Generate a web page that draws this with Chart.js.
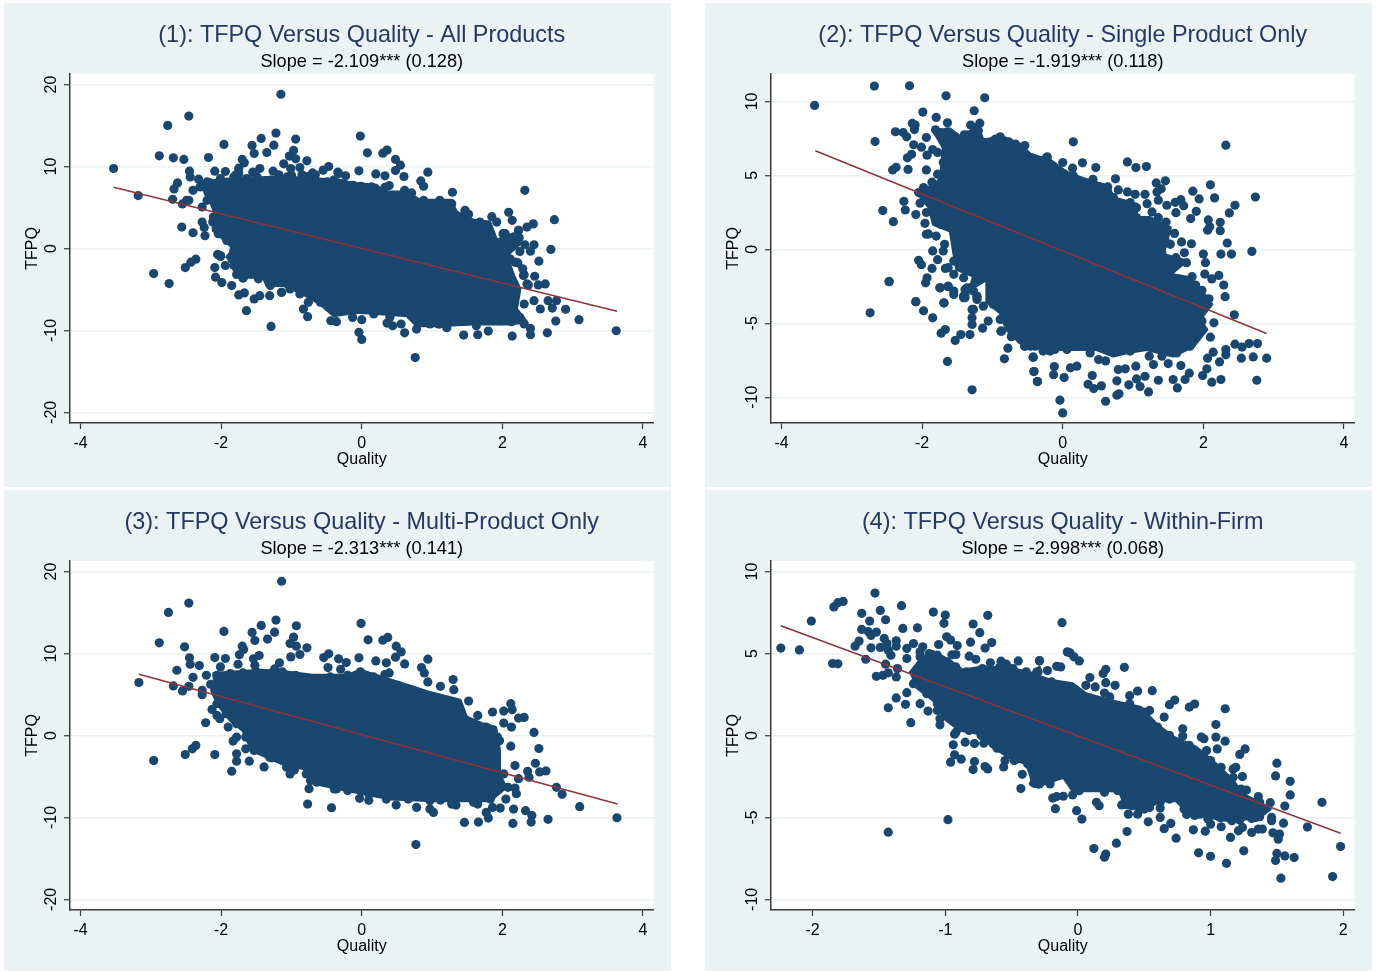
<!DOCTYPE html>
<html>
<head>
<meta charset="utf-8">
<title>TFPQ Versus Quality</title>
<script src="https://cdn.jsdelivr.net/npm/chart.js@4/dist/chart.umd.min.js"></script>
<style>
  html, body { margin: 0; padding: 0; background: #fff; }
  .panel { position: absolute; width: 667px; background: #eaf2f3; overflow: hidden; }
  .panel canvas { display: block; }
</style>
</head>
<body>
<div class="panel" style="left:4px;top:3px;height:484px"><canvas id="c1" width="667" height="484"></canvas></div>
<div class="panel" style="left:705px;top:3px;height:484px"><canvas id="c2" width="667" height="484"></canvas></div>
<div class="panel" style="left:4px;top:490px;height:481px"><canvas id="c3" width="667" height="484"></canvas></div>
<div class="panel" style="left:705px;top:490px;height:481px"><canvas id="c4" width="667" height="484"></canvas></div>
<script>
const titles = [
  "(1): TFPQ Versus Quality - All Products",
  "(2): TFPQ Versus Quality - Single Product Only",
  "(3): TFPQ Versus Quality - Multi-Product Only",
  "(4): TFPQ Versus Quality - Within-Firm"
];
const subtitles = [
  "Slope = -2.109*** (0.128)",
  "Slope = -1.919*** (0.118)",
  "Slope = -2.313*** (0.141)",
  "Slope = -2.998*** (0.068)"
];

// fitted lines
const fit1 = [[-3.53, 7.47], [3.63, -7.67]];
const fit2 = [[-3.52, 6.66], [2.90, -5.69]];
const fit3 = [[-3.17, 7.47], [3.64, -8.37]];
const fit4 = [[-2.24, 6.69], [1.98, -5.96]];

// the middle of each cloud is solid ink, so only its outline is read and filled
const cloud1 = [[-2.18,5.88],[-2.3,8.12],[-1.82,8.53],[-1.11,8.73],[-0.31,8.33],[-0.12,7.92],[0.21,7.71],[0.31,6.9],[0.64,6.9],[0.83,5.88],[1.26,5.88],[1.35,4.45],[1.59,3.43],[1.82,3.22],[1.92,1],[2.16,1.8],[2.25,0.57],[2.06,-0.86],[2.16,-3.3],[2.25,-4.94],[2.2,-7.39],[2.35,-9.02],[2.06,-9.22],[1.59,-9.22],[1.07,-9.43],[0.78,-9.43],[0.64,-8.2],[0.31,-8],[-0.07,-7.8],[-0.4,-8.2],[-0.59,-6.78],[-0.88,-5.35],[-1.11,-4.53],[-1.35,-4.53],[-1.4,-3.51],[-1.73,-3.51],[-1.82,-1.67],[-1.92,-1.06],[-1.82,-0.04],[-1.92,0.78],[-2.11,2.2],[-2.11,4.24]];
const cloud2 = [[-2.08,3.72],[-1.74,4.63],[-1.7,6.88],[-1.84,8.01],[-1.6,8.13],[-1.41,7.45],[-1.22,8.47],[-1.13,7.34],[-0.89,7.67],[-0.61,7.11],[-0.46,6.43],[-0.32,6.21],[-0.23,6.21],[0.06,5.19],[0.39,4.63],[0.65,4.29],[0.72,3.5],[1.05,3.05],[1.05,2.15],[1.24,2.15],[1.53,1.47],[1.43,-0.34],[1.76,-0.79],[1.53,-1.69],[1.81,-1.92],[2,-3.05],[2.12,-3.72],[1.95,-4.74],[2.05,-5.42],[1.86,-6.55],[1.57,-7.22],[1.19,-6.77],[0.91,-7],[0.72,-7.22],[0.48,-6.77],[0.01,-6.77],[-0.27,-6.77],[-0.37,-6.55],[-0.61,-6.32],[-0.8,-5.42],[-0.89,-4.29],[-1.08,-3.57],[-1.08,-2.03],[-1.32,-2.71],[-1.27,-1.81],[-1.51,-1.35],[-1.55,-0.23],[-1.6,1.24],[-1.84,1.69],[-1.89,2.6]];
const cloud3 = [[-2.12,7.55],[-1.81,7.76],[-1.44,7.96],[-1.07,7.76],[-0.7,7.35],[-0.2,7.35],[-0.02,7.96],[0.35,6.94],[0.66,6.12],[0.94,5.31],[1.22,4.69],[1.4,4.29],[1.49,2.24],[1.71,1.43],[1.9,1.02],[1.96,-1.84],[1.96,-4.69],[2.05,-6.33],[1.83,-7.96],[1.03,-7.96],[0.41,-7.76],[-0.2,-6.73],[-0.64,-5.92],[-0.82,-4.08],[-1.13,-3.47],[-1.56,-1.84],[-1.69,0.61],[-1.87,1.84],[-2.02,3.47],[-2.12,5.1]];
const cloud4 = [[-1.27,3.78],[-1.17,4.8],[-1.09,5.1],[-0.97,4.59],[-0.87,3.98],[-0.72,4.18],[-0.49,4.08],[-0.34,3.78],[-0.29,4.18],[-0.31,3.67],[-0.21,3.37],[-0.04,3.16],[0.06,2.55],[0.24,2.14],[0.47,1.73],[0.59,0.71],[0.72,-0.1],[0.89,-0.71],[1.04,-1.73],[1.17,-2.76],[1.24,-3.57],[1.39,-4.18],[1.45,-4.49],[1.37,-5],[1.14,-5.2],[0.84,-4.8],[0.74,-3.98],[0.64,-3.98],[0.49,-4.49],[0.36,-4.39],[0.31,-3.37],[0.14,-3.37],[-0.04,-3.37],[-0.11,-2.55],[-0.26,-2.96],[-0.36,-2.96],[-0.34,-2.76],[-0.39,-1.73],[-0.52,-1.33],[-0.64,-0.71],[-0.74,0.1],[-0.89,0.31],[-0.99,0.92],[-1.09,2.14],[-1.22,2.96]];

// dots that scallop the rim of each cloud
const rim1 = [[-1.82,8.73],[-1.75,9.14],[-1.61,8.33],[-1.49,8.73],[-1.4,7.92],[-1.18,8.98],[-1.06,8.73],[-0.85,8.98],[-0.78,8.73],[-0.66,8.98],[-0.57,7.76],[-0.4,8.33],[-0.33,9.14],[-0.12,7.71],[-0.01,7.59],[0.14,7.51],[0.26,6.78],[0.45,6.49],[0.66,5.67],[0.88,5.88],[1.11,5.88],[1.28,5.47],[1.47,4.45],[1.68,3.22],[1.92,3.22],[2.04,1.8],[2.23,2.2],[0.17,-8],[0.4,-8.41],[0.71,-7.59],[0.88,-8.41],[1.11,-9.22],[1.4,-8.41],[1.59,-8.82],[1.82,-8.41],[2.11,-8.82],[2.25,-8.41],[-0.17,-7.39],[2.16,-6.37],[2.35,-4.33],[2.3,-3.3],[2.18,-1.67],[-0.59,-6.57],[-0.76,-6.57],[-1.02,-4.94],[-1.14,-5.35],[-1.3,-4.53],[-1.47,-3.71],[-1.68,-3.51],[-1.82,-2.08],[-2.01,-0.86],[-2.06,3.22],[-2.11,3.84],[-2.04,1.8],[-1.92,0.98],[-1.8,0.98],[-2.3,7.51],[-2.2,8.12],[-2.49,5.88]];
const rim2 = [[-1.22,-3.16],[-1.29,-4.06],[-1.13,-3.84],[-0.99,-3.72],[-1.41,-3.16],[-1.39,-2.71],[-1.32,-2.6],[-1.41,-1.92],[-1.22,-3.39],[-1.63,6.88],[-1.55,6.88],[-1.67,6.32],[-1.63,5.98],[-1.7,5.87],[-1.74,4.51],[-1.7,3.95],[-1.84,3.95],[-1.98,3.84],[-2.05,3.84],[-1.89,3.27],[-1.79,3.27],[-1.84,2.6],[-1.74,1.69],[-1.6,1.47],[-1.5,2.37],[-1.94,2.49],[-1.51,-0.11],[-1.55,-0.79],[-1.63,-1.24],[-1.55,-1.69],[-1.36,-2.6],[-1.22,-3.27],[-1.41,-3.27],[-1.27,-2.82],[0.55,4.18],[0.72,3.5],[0.96,3.16],[1.05,2.82],[1.05,2.15],[1.19,1.69],[1.43,1.13],[1.48,0.45],[1.41,-0.23],[1.43,-0.79],[1.5,-1.47],[1.67,-2.03],[1.76,-2.82],[2,-3.27],[1.98,-4.85],[1.95,-5.42],[1.81,-6.0],[1.81,-6.55],[1.62,-7],[1.41,-7.22],[0.96,-6.88],[0.63,-6.55],[0.39,-7],[0.06,-6.77],[-0.18,-6.88],[-0.46,-6.55],[-0.39,-6.55],[-0.54,-6.55],[-0.61,-5.87],[-0.73,-5.87],[-0.87,-5.53],[-0.89,-4.74],[-0.87,-4.06],[-0.61,-4.74],[-0.46,6.21],[-0.37,5.98],[-0.23,6.21],[0.03,5.08],[0.15,4.97],[0.32,4.4],[0.46,4.18]];
const rim3 = [[-2.06,7.35],[-1.87,7.55],[-1.69,7.63],[-1.5,7.76],[-1.31,7.55],[-1.13,7.76],[-0.94,7.35],[-0.7,6.94],[-0.45,7.14],[-0.2,7.35],[-0.02,7.76],[0.17,7.14],[0.32,6.53],[0.51,6.12],[0.72,5.51],[0.94,4.49],[1.16,3.88],[1.37,3.47],[1.49,1.84],[1.59,1.43],[1.77,1.02],[1.93,-0.2],[2.02,-4.69],[2.08,-6.33],[1.83,-7.76],[1.59,-8.16],[1.28,-8.37],[0.97,-7.96],[0.66,-7.76],[0.35,-7.76],[0.1,-7.14],[-0.2,-6.73],[-0.39,-6.53],[-0.64,-5.71],[-0.79,-4.69],[-1.07,-3.88],[-1.31,-2.65],[-1.53,-1.84],[-1.65,-0.2],[-1.78,1.43],[-1.93,2.65],[-2.06,3.88],[-2.09,5.51]];
const rim4 = [[-1.19,4.8],[-1.12,5],[-1.06,4.9],[-0.99,4.49],[-0.92,4.18],[-0.84,3.88],[-0.72,4.08],[-0.59,4.18],[-0.49,4.08],[-0.39,3.88],[-0.3,3.88],[-1.24,3.16],[-1.14,2.55],[-1.06,1.94],[-0.98,1.12],[-0.92,0.2],[-0.82,0.31],[-0.73,0],[-0.64,-0.51],[-0.52,-1.12],[-0.46,-1.43],[-0.38,-1.73],[-0.31,-2.04],[-0.31,-2.76],[-0.31,3.37],[-0.2,3.27],[-0.09,2.96],[0.06,3.06],[0.24,2.35],[0.39,1.94],[0.5,1.43],[0.6,0.51],[0.69,0],[0.84,-0.61],[0.94,-1.53],[1.07,-2.14],[1.17,-2.55],[1.24,-3.37],[1.37,-4.08],[-0.3,-2.96],[-0.21,-2.96],[-0.06,-2.55],[0.01,-3.37],[0.2,-3.47],[0.3,-3.37],[0.41,-4.29],[0.5,-4.49],[0.62,-4.08],[0.69,-3.88],[0.8,-4.49],[0.92,-4.8],[1.07,-5],[1.19,-4.69],[1.34,-5]];

// single dots around the clouds
const points1 = [[-3.53,9.76],[-3.18,6.45],[-2.76,15.02],[-2.46,16.16],[-2.88,11.3],[-2.68,11.06],[-2.53,10.86],[-2.18,11.1],[-1.96,12.69],[-1.15,18.82],[-1.22,14.08],[-1.43,13.43],[-1.56,12.57],[-1.25,12.61],[-1.53,11.59],[-1.35,11.71],[-0.94,13.35],[-0.97,11.96],[-1.03,11.27],[-0.94,10.94],[-0.78,10.69],[-1.11,10.33],[-1.7,10.86],[-1.67,10.45],[-1.75,9.8],[-1.45,9.76],[-0.88,9.88],[-0.47,10],[-0.55,9.55],[-0.34,9.31],[-1.26,9.43],[-1.01,9.76],[-1,8.94],[-1.55,9.31],[-1.79,8.98],[-1.94,9.39],[-2.09,9.43],[-2.45,9.43],[-2.44,8.73],[-2.32,8.45],[-2.62,8.0],[-2.67,7.27],[-2.4,7.1],[-2.69,6.0],[-2.55,5.43],[-2.46,5.88],[-2.27,5.06],[-2.11,7.71],[-2.2,5.88],[-2.16,8],[-2.01,8.53],[-1.64,8.53],[-1.3,8.33],[-0.78,8.73],[-0.7,9.22],[-0.49,8.12],[-0.33,7.96],[-2.27,3.22],[-2.24,2.57],[-2.56,2.61],[-2.4,1.92],[-2.23,1.55],[-2.12,3.22],[-2.07,2.41],
  [-0.02,13.71],[0.08,11.67],[0.3,11.63],[0.36,12],[0.48,10.86],[0.55,10.16],[0.48,9.51],[0.6,8.78],[0.94,9.31],[0.84,8.24],[0.88,7.59],[-0.04,9.47],[0.2,9.1],[0.33,8.86],[-0.23,8.86],[0.39,7.67],[0.33,7.47],[0.61,7.1],[0.71,6.78],[1.29,6.86],[2.32,7.1],[2.74,3.51],[2.09,4.41],[2.14,3.43],[2.44,3.0],[2.35,2.61],[1.85,3.88],[1.47,4.65],[1.52,4.16],[2.23,2.2],[2.24,1.31],[2.01,1.8],[2.32,0.45],[2.45,0.45],
  [-2.96,-3.06],[-2.74,-4.29],[-2.51,-2.33],[-2.43,-1.67],[-2.36,-1.31],[-2.09,-2.33],[-2.08,-3.51],[-1.99,-4.16],[-1.85,-4.53],[-1.75,-5.67],[-1.67,-5.43],[-1.53,-6.16],[-1.45,-5.76],[-1.64,-7.59],[-1.29,-9.51],[-2.05,-0.73],[-2.01,-0.98],[-1.94,-2.08],[-1.85,-1.27],[-1.82,-0.24],[-1.78,-2.41],[-1.78,-3.18],[-1.69,-3.63],[-1.56,-3.1],[-1.31,-5.76],[-1.14,-5.35],[-0.83,-7.4],[-0.77,-8.33],[-0.44,-8.82],[-0.36,-8.94],[-0.43,-7.27],[-0.88,-5.55],
  [-0.04,-10.24],[0,-11.1],[0.76,-13.31],[0.61,-10.29],[1.45,-10.57],[1.65,-10.53],[2.14,-10.69],[2.4,-10.53],[2.64,-10.29],[3.62,-10.04],[3.09,-8.69],[2.76,-8.86],[2.9,-7.43],[2.71,-7.27],[2.54,-7.39],[2.45,-6.37],[2.65,-6.37],[2.77,-6.37],[2.31,-6.78],[2.61,-4.33],[2.51,-4.45],[2.37,-4.45],[2.46,-3.39],[2.31,-3.22],[2.52,-1.55],[2.25,-0.37],[2.4,-0.33],[2.69,-0.12],[1.99,-0.45],[2.11,-1.27],[2.22,-1.76],[2.29,-2.49],[2.4,-9.76],[2.31,-9.22],[2.13,-8.94],[1.8,-10.08],[1.63,-9.43],[1.21,-9.67],[0.78,-9.84],[0.56,-9.22],[0.44,-9.43],[0.36,-9.1],[0,-8.69],[-0.13,-8.41],[0.97,-9.22],[1.09,-9.22],[1.35,-8.86],[1.97,-8.82]];

const points2 = [[-3.53,9.73],[-2.68,11.04],[-2.18,11.06],[-1.66,10.38],[-1.11,10.25],[-1.99,9.28],[-1.8,8.92],[-1.26,9.37],[-1.64,8.56],[-2.14,8.51],[-2.1,8.4],[-2.11,8.1],[-2.38,7.95],[-2.27,7.9],[-2.22,7.61],[-2.67,7.29],[-1.94,7.56],[-2.12,7.07],[-2.01,6.91],[-1.81,8.08],[-1.74,7.9],[-1.64,7.95],[-1.61,7.52],[-1.31,8.4],[-1.18,8.53],[-1.2,8.01],[-1.4,7.74],[-1.34,7.74],[-1.85,6.75],[-1.78,6.55],[-1.93,6.37],[-2.15,6.43],[-2.21,6.19],[-2.42,5.37],[-2.37,5.55],[-2.2,5.4],[-1.94,5.37],[-1.78,5.08],[-1.86,4.54],[-1.98,4.18],[-2.26,3.25],[-2.24,2.66],[-2.03,3.12],[-2.56,2.62],[-2.41,1.87],[-2.09,2.35],[-1.96,1.76],[-1.94,1.02],[-1.91,1.04],[-1.8,0.9],[-1.68,0.34],[-1.85,-0.11],[-1.7,-0.11],[-2.05,-0.74],[-2.01,-1.04],[-1.78,-0.7],[-1.86,-1.29],[-1.93,-1.92],[-1.95,-2.26],[-2.47,-2.17],[-1.74,-2.6],[-1.63,-2.53],[-1.67,-1.29],[-1.55,-2.82],[-2.09,-3.54],[-1.69,-3.61],[-1.39,-3.05],[-1.44,6.88],[-1.67,5.87],[-1.1,7.22],[-0.96,7.45],[-0.89,7.61],[-0.77,7.27],[-0.67,7.11],[-0.54,7.02],[-0.47,6.21],
  [0.15,7.27],[2.32,7.04],[-0.22,6.25],[0,5.87],[0.28,5.85],[0.14,5.49],[0.47,5.53],[0.92,5.91],[1.04,5.53],[1.19,5.6],[0.75,4.77],[0.43,4.74],[0.64,4.22],[1.33,4.49],[1.46,4.63],[1.4,4.09],[0.79,4.02],[0.92,3.88],[1.03,3.72],[1.17,3.72],[1.34,3.88],[1.2,3.09],[1.36,3.32],[1.85,3.93],[2.1,4.36],[1.94,3.41],[2.16,3.48],[2.74,3.54],[2.45,2.98],[2.37,2.46],[1.68,3.36],[1.72,2.95],[1.6,3.18],[1.61,2.48],[1.48,2.98],[1.27,2.53],[1.36,2.14],[1.47,1.85],[1.9,2.57],[1.82,2.08],[2.07,1.99],[2.09,1.53],[2.06,1.29],[2.24,1.83],[2.24,1.26],[1.59,1.08],[1.48,1.24],[2.34,0.43],[1.69,0.5],[1.83,0.38],[1.53,0.34],[2.69,-0.14],[2,-0.32],[2.25,-0.32],[2.4,-0.32],[1.73,-0.23],[2.03,-0.9],[1.76,-0.9],[1.61,-0.56],[1.55,-1.35],[2.02,-1.67],[2.22,-1.76],[2.12,-2.0],[1.84,-1.85],[2.29,-2.41],[1.89,-2.41],[2.31,-3.2],[2.08,-3.34],[1.98,-2.77],
  [2.44,-4.42],[2.15,-4.97],[2.1,-5.94],[2.45,-6.41],[2.55,-6.61],[2.65,-6.37],[2.77,-6.37],[2.9,-7.36],[2.71,-7.27],[2.54,-7.36],[2.32,-6.77],[2.32,-7.13],[2.14,-6.95],[2.06,-7.36],[2.23,-7.61],[2.76,-8.85],[2.25,-8.8],[2.12,-8.98],[1.99,-8.53],[1.8,-8.37],[2.05,-8.08],[1.68,-7.86],[1.5,-7.72],[1.74,-8.8],[1.57,-8.8],[1.63,-9.37],[1.36,-8.85],[1.22,-9.64],[1.17,-8.58],[1.05,-8.76],[1.1,-9.28],[0.94,-9.16],[0.77,-8.89],[0.77,-9.86],[0.8,-9.77],[0.61,-10.27],[0.55,-9.23],[0.44,-9.41],[0.36,-9.12],[0.42,-8.53],[0.02,-8.67],[-0.04,-10.2],[0,-11.06],[-0.13,-8.47],[-0.12,-7.92],[-0.36,-8.94],[-0.41,-8.26],[0.11,-8.01],[0.2,-7.9],[0.79,-8.13],[0.89,-8.08],[1.23,-7.22],[1.29,-7.79],[1.04,-7.9],[0.61,-7.54],[0.51,-7.45],[-0.28,-6.88],[-0.42,-7.29],[-0.11,-6.77],
  [-2.74,-4.29],[-2.47,-2.19],[-2.09,-3.54],[-1.98,-4.15],[-1.85,-4.63],[-1.69,-3.63],[-1.73,-5.67],[-1.67,-5.42],[-1.53,-6.16],[-1.45,-5.76],[-1.64,-7.58],[-1.29,-9.5],[-1.32,-5.76],[-1.14,-5.33],[-1.29,-5.08],[-1.29,-4.63],[-1.27,-4.06],[-1.06,-4.85],[-0.88,-5.53],[-0.73,-5.91],[-0.78,-6.68],[-0.83,-7.4],[-0.54,-6.55],[-0.42,-7.29],[-0.41,-8.26],[-0.36,-8.94],[-1.55,-3.05],[-1.39,-3.27],[-1.63,-2.48],[-1.75,-2.6]];

const points3 = [[-3.17,6.45],[-2.96,-3.06],[-2.88,11.31],[-2.75,15.02],[-2.46,16.16],[-2.52,10.82],[-2.63,7.96],[-2.68,6.04],[-2.55,5.43],[-2.46,6],[-2.45,9.47],[-2.44,8.69],[-2.4,7.1],[-2.31,8.53],[-2.51,-2.33],[-2.41,-1.63],[-2.36,-1.22],[-2.27,5.51],[-2.27,4.98],[-2.22,1.55],[-2.09,-2.33],[-2.09,9.51],[-2.01,8.37],[-1.96,12.69],[-1.94,9.39],[-2.13,3.18],[-2.06,2.45],[-1.9,1.02],[-1.85,-4.37],[-1.78,-2.24],[-1.78,-3.14],[-1.6,-3.14],[-1.39,-3.84],[-1.83,-0.69],[-1.78,-0.2],[-1.76,8.69],[-1.74,9.84],[-1.68,10.49],[-1.7,10.9],[-1.56,12.57],[-1.52,11.59],[-1.43,13.43],[-1.34,11.76],[-1.24,12.61],[-1.22,14.08],[-1.14,18.82],[-0.93,13.39],[-0.97,12],[-1.02,11.22],[-0.93,10.9],[-0.78,10.69],[-0.88,9.88],[-1.01,9.59],[-1.46,9.76],[-1.54,9.35],[-1.52,8.57],[-1.17,8.86],[-1.24,8.12],[-0.54,9.51],[-0.47,9.96],[-0.33,9.35],[-0.22,8.9],[-0.48,8.29],[-0.3,8.08],[-0.04,9.47],[-0.01,13.67],[0.09,11.67],[0.3,11.63],[0.37,11.96],[0.49,10.9],[0.56,10.2],[0.48,9.55],[0.2,9.1],[0.35,8.86],[0.61,8.73],[0.94,9.31],[0.85,8.29],[0.89,7.63],[0.39,7.63],[0.33,7.43],[1.3,6.82],[0.94,6.53],[1.12,6],[1.31,5.59],[1.52,4.2],[1.65,2.45],[1.86,2.86],[2.02,2.98],[2.12,3.88],[2.14,3.14],[2.31,2.2],[2.23,2.12],[2.45,0.37],[2.52,-1.59],[2.12,-1.31],[1.96,-0.65],[2.13,1.02],[2.02,1.51],[1.87,0.61],[2.47,-3.39],[2.18,-3.67],[2.53,-4.45],[2.62,-4.33],[2.36,-4.37],[2.38,-5.1],[2.23,-5.27],[2.77,-6.33],[2.85,-7.18],[2.18,-6.41],[2.2,-7.1],[2.05,-7.76],[3.1,-8.69],[2.33,-9.18],[2.42,-9.76],[2.16,-8.98],[1.97,-8.86],[1.86,-8.78],[1.77,-9.39],[1.8,-10.08],[2.65,-10.24],[2.41,-10.57],[2.15,-10.73],[1.66,-10.57],[1.46,-10.61],[3.63,-10.04],[0.77,-13.31],[1.02,-9.39],[0.97,-8.98],[0.78,-8.78],[0.49,-8.49],[0.1,-7.92],[-0.03,-7.67],[-0.43,-8.82],[-0.77,-8.37],[-0.75,-6.49],[-1.02,-4.69],[-0.96,-4.2],[-0.73,-5.51],[-0.54,-5.39],[-0.36,-6.53],[-0.2,-6.53],[1.12,-7.88],[1.34,-8.49],[1.65,-8.37],[-1.28,-2.73],[-1.45,-1.43],[-1.65,-1.63],[-2.02,2.04],[-2.15,6.24],[-2.21,7.35]];

const points4 = [[-2.24,5.33],[-2.1,5.22],[-2.01,6.98],[-1.84,7.84],[-1.81,8.1],[-1.77,8.18],[-1.85,4.39],[-1.81,4.37],[-1.68,5.45],[-1.65,5.76],[-1.63,7.45],[-1.57,6.98],[-1.53,8.69],[-1.49,7.63],[-1.45,7.06],[-1.33,7.92],[-1.32,6.53],[-1.21,6.57],[-1.63,6.47],[-1.58,6.33],[-1.56,6.1],[-1.52,6.31],[-1.46,5.92],[-1.56,5.35],[-1.49,5.37],[-1.44,5.61],[-1.37,5.78],[-1.37,5.45],[-1.43,5.2],[-1.41,4.9],[-1.6,4.65],[-1.45,4.35],[-1.52,3.61],[-1.47,3.67],[-1.43,3.82],[-1.37,3.57],[-1.36,4.08],[-1.29,5.31],[-1.29,4.69],[-1.24,5.61],[-1.37,2.29],[-1.29,2.61],[-1.3,1.9],[-1.43,1.69],[-1.19,1.94],[-1.13,1.49],[-1.26,0.78],[-1.05,5.55],[-1.09,7.53],[-1,7.35],[-1.01,6.84],[-0.99,6.02],[-0.96,5.82],[-0.91,5.49],[-0.92,4.94],[-0.95,4.92],[-0.81,5.69],[-0.79,6.8],[-0.74,6.27],[-0.68,7.33],[-0.65,5.67],[-0.7,5.33],[-0.82,4.84],[-0.77,4.65],[-0.66,4.43],[-0.58,4.53],[-0.54,4.35],[-0.45,4.55],[-0.29,4.55],[-0.31,3.88],[-1.17,5.41],[-1.19,5.1],[-1.06,1.53],[-1.04,1.02],[-1.04,0.65],[-0.93,0.08],[-0.94,-0.57],[-0.93,-1.18],[-0.96,-1.63],[-0.88,-1.45],[-0.85,-0.41],[-0.78,-0.49],[-0.78,-1.59],[-0.79,-2.08],[-0.7,-1.9],[-0.68,-2.04],[-0.71,-0.47],[-0.61,-0.78],[-0.56,-1.92],[-0.55,-1.53],[-0.48,-1.53],[-0.42,-2.37],[-0.43,-3.24],[-0.33,-2.55],[-0.33,-2.92],[-0.98,-5.14],[-1.43,-5.9],
  [-0.12,6.88],[-0.08,5.1],[-0.06,5.04],[-0.03,4.8],[0.01,4.55],[-0.29,4.57],[-0.16,4.22],[-0.13,4.18],[-0.23,3.96],[0.21,4.04],[0.19,3.78],[0.35,4.16],[0.09,3.53],[0.21,3.22],[0.28,3.06],[0.13,2.96],[0.2,2.59],[0.45,2.71],[0.56,2.73],[0.39,2.43],[0.69,1.88],[0.73,2.16],[0.84,1.73],[0.88,1.92],[1.11,1.63],[0.54,1.53],[0.65,1.12],[1.04,0.67],[0.79,0.41],[0.79,-0.04],[0.93,-0.1],[0.95,-0.2],[1.04,-0.1],[1.11,-0.35],[1.05,-0.82],[1.22,-1.16],[1.26,-0.82],[0.97,-0.92],[1,-1.53],[1.08,-1.94],[1.17,-2.04],[1.19,-1.94],[1.24,-2.51],[1.5,-1.69],[1.49,-2.47],[1.6,-2.8],[1.6,-3.63],[1.23,-3.27],[1.27,-3.33],[1.36,-3.73],[1.84,-4.08],[1.56,-4.31],[1.45,-4.1],[1.73,-5.59],[1.55,-5.35],[1.46,-5],[1.46,-5.2],[1.37,-4.96],[1.31,-5.06],[1.22,-5.16],[1.16,-5.2],[1.24,-5.61],[1.21,-5.82],[1.31,-5.92],[1.36,-5.71],[1.39,-5.71],[1.47,-5.94],[1.52,-6.02],[1.51,-6.33],[1.15,-6.22],[1.08,-5.57],[1,-5.41],[0.96,-5.84],[0.87,-5.76],[0.74,-6.27],[0.7,-5.37],[0.65,-5.69],[0.62,-5],[0.53,-5.27],[0.37,-5.86],[0.29,-6.57],[0.21,-7.24],[0.2,-7.43],[0.12,-6.9],[0.91,-7.16],[1,-7.37],[1.12,-7.8],[1.25,-7.04],[1.5,-7.2],[1.56,-7.35],[1.63,-7.45],[1.49,-7.63],[1.53,-8.71],[1.92,-8.61],[1.98,-6.78],[0.03,-5.1],[-0.01,-4.59],[-0.17,-4.47],[-0.19,-3.82],[-0.16,-3.73],[-0.11,-3.71],[-0.04,-3.63],[0.14,-4.08],[0.16,-4.29],[0.33,-4.24],[0.38,-4.8],[0.45,-4.8],[0.54,-4.39],[0.62,-4.43],[0.82,-4.82],[0.88,-4.88],[0.98,-5.1],[1.08,-5],[-0.29,-2.96],[-0.33,-2.86]];

const xTicks1 = { min: -4.15, max: 4.15, stepSize: 2 };
const xTicks4 = { min: -2.314, max: 2.085, stepSize: 1 };
const yTicks1 = { min: -21.3, max: 21.3, stepSize: 10 };
const yTicks2 = { min: -11.74, max: 11.86, stepSize: 5 };
const yTicks4 = { min: -10.65, max: 10.65, stepSize: 5 };

const navy = "#1a476f";
const maroon = "#90353b";
const panelBg = "#eaf2f3";
const axisColor = "#3a3a3a";
const fontFamily = "'Liberation Sans', Arial, sans-serif";

const toXY = pairs => pairs.map(p => ({ x: p[0], y: p[1] }));

// stata style white plot region inside the tinted panel
const plotBackground = {
  id: "plotBackground",
  beforeDraw(chart) {
    const { ctx, chartArea: a } = chart;
    ctx.save();
    ctx.fillStyle = "#fff";
    ctx.fillRect(a.left, a.top, a.right - a.left, a.bottom - a.top);
    ctx.restore();
  }
};

const drawPanel = (id, i, cloud, rim, points, fit, xRange, yRange) => {
  new Chart(document.getElementById(id), {
    type: "scatter",
    data: {
      datasets: [
        { label: "Fit", data: toXY(fit), showLine: true, borderColor: maroon, borderWidth: 1.6, pointRadius: 0, fill: false },
        { label: "Firms", data: toXY(points.concat(rim)), backgroundColor: navy, borderColor: navy, borderWidth: 0, pointRadius: 4.6 },
        { label: "Cloud", data: toXY(cloud), showLine: true, borderColor: navy, borderWidth: 3, borderJoinStyle: "round", backgroundColor: navy, pointRadius: 0, fill: "shape" }
      ]
    },
    plugins: [plotBackground],
    options: {
      responsive: false,
      animation: false,
      events: [],
      layout: { padding: { left: 19, right: 17.5, bottom: 18, top: 0 } },
      plugins: {
        legend: { display: false },
        tooltip: { enabled: false },
        title: {
          display: true, text: titles[i], color: "#263864", fullSize: false,
          font: { family: fontFamily, size: 23.4, weight: "normal" },
          padding: { top: 19, bottom: 0 }
        },
        subtitle: {
          display: true, text: subtitles[i], color: "#000", fullSize: false,
          font: { family: fontFamily, size: 18.2, weight: "normal" },
          padding: { top: 1, bottom: 1 }
        }
      },
      scales: {
        x: {
          type: "linear",
          min: xRange.min, max: xRange.max,
          afterFit: s => { s.height = 46; },
          border: { color: axisColor, width: 1.5 },
          grid: { drawOnChartArea: false, tickColor: axisColor, tickLength: 6, tickWidth: 1.2 },
          ticks: { stepSize: xRange.stepSize, includeBounds: false, color: "#000", padding: 5, maxRotation: 0, font: { family: fontFamily, size: 16 } },
          title: { display: true, text: "Quality", color: "#000", padding: 0, font: { family: fontFamily, size: 16 } }
        },
        y: {
          type: "linear",
          min: yRange.min, max: yRange.max,
          afterFit: s => { s.width = 47; },
          border: { color: axisColor, width: 1.5 },
          grid: { color: panelBg, lineWidth: 1.5, tickColor: axisColor, tickLength: 6, tickWidth: 1.2 },
          ticks: { stepSize: yRange.stepSize, includeBounds: false, color: "#000", padding: 1, minRotation: 90, maxRotation: 90, crossAlign: "center", font: { family: fontFamily, size: 16 } },
          title: { display: true, text: "TFPQ", color: "#000", padding: 0, font: { family: fontFamily, size: 16 } }
        }
      }
    }
  });
};

drawPanel("c1", 0, cloud1, rim1, points1, fit1, xTicks1, yTicks1);
drawPanel("c2", 1, cloud2, rim2, points2, fit2, xTicks1, yTicks2);
drawPanel("c3", 2, cloud3, rim3, points3, fit3, xTicks1, yTicks1);
drawPanel("c4", 3, cloud4, rim4, points4, fit4, xTicks4, yTicks4);
</script>
</body>
</html>
